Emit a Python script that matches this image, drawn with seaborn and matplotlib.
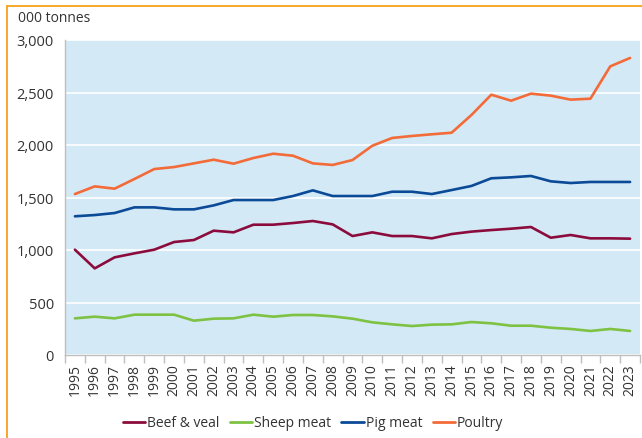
import matplotlib
matplotlib.use("Agg")
import matplotlib.pyplot as plt
from matplotlib.lines import Line2D
from matplotlib.ticker import FuncFormatter
import numpy as np
import pandas as pd
import seaborn as sns

years = list(range(1995, 2024))

beef_veal = [1003, 825, 930, 968, 1003, 1076, 1095, 1184, 1168, 1241,
             1241, 1257, 1276, 1244, 1133, 1168, 1133, 1133, 1111, 1152,
             1175, 1190, 1203, 1219, 1117, 1143, 1111, 1111, 1108]
sheep_meat = [349, 365, 349, 384, 384, 384, 327, 346, 349, 384,
              365, 381, 381, 368, 346, 311, 292, 276, 289, 292,
              314, 302, 279, 279, 260, 248, 229, 248, 229]
pig_meat = [1321, 1333, 1352, 1406, 1406, 1387, 1387, 1425, 1476, 1476,
            1476, 1514, 1568, 1514, 1514, 1514, 1555, 1555, 1533, 1571,
            1610, 1683, 1692, 1705, 1654, 1638, 1648, 1648, 1648]
poultry = [1533, 1606, 1584, 1676, 1771, 1790, 1825, 1860, 1822, 1876,
           1917, 1898, 1825, 1810, 1857, 1993, 2067, 2086, 2102, 2117,
           2286, 2479, 2422, 2489, 2470, 2432, 2441, 2749, 2829]

series_names = ["Beef & veal", "Sheep meat", "Pig meat", "Poultry"]
colours = ["#8B0C3C", "#7DC242", "#0A4A97", "#F26B38"]

df = pd.DataFrame({"Year": years, "Beef & veal": beef_veal, "Sheep meat": sheep_meat,
                   "Pig meat": pig_meat, "Poultry": poultry})
long_df = df.melt(id_vars="Year", var_name="Meat", value_name="Tonnes")

sns.set_theme(style="white")
plt.rcParams["font.family"] = ["Open Sans", "DejaVu Sans"]

fig = plt.figure(figsize=(6.42, 4.39), dpi=100)
ax = fig.add_axes([65 / 642, 1 - 356 / 439, 575 / 642, 315 / 439])
ax.set_facecolor("#D4E9F6")

sns.lineplot(data=long_df, x="Year", y="Tonnes", hue="Meat", hue_order=series_names,
             palette=colours, linewidth=1.9, ax=ax, legend=False)

ax.set_xlim(1994.5, 2023.5)
ax.set_ylim(0, 3000)
ax.set_yticks(np.arange(0, 3001, 500))
ax.yaxis.set_major_formatter(FuncFormatter(lambda v, p: f"{int(v):,}"))
ax.set_xticks(years)
ax.set_xticklabels([str(y) for y in years], rotation=90)
ax.set_xticks(np.arange(1994.5, 2024, 1), minor=True)
ax.tick_params(axis="x", which="major", length=0, pad=6, labelsize=10, colors="#333333")
ax.tick_params(axis="x", which="minor", length=6, width=1, color="#BFBFBF", direction="out")
ax.tick_params(axis="y", which="major", length=5, width=1, labelsize=10.5, pad=3)
ax.tick_params(axis="y", colors="#BFBFBF", labelcolor="#333333")
ax.tick_params(axis="x", which="minor", bottom=True)
ax.grid(axis="y", color="white", linewidth=1.2)
ax.set_axisbelow(True)
ax.set_xlabel("")
ax.set_ylabel("")
for side in ["top", "right"]:
    ax.spines[side].set_visible(False)
for side in ["left", "bottom"]:
    ax.spines[side].set_color("#BFBFBF")
    ax.spines[side].set_linewidth(1)

fig.text(18 / 642, 1 - 18 / 439, "000 tonnes", fontsize=10, color="#333333", va="center", ha="left")

handles = [Line2D([0], [0], color=c, lw=2) for c in colours]
fig.legend(handles, series_names, loc="center", bbox_to_anchor=(313 / 642, 1 - 424 / 439), ncol=4,
           frameon=False, fontsize=10, handlelength=1.6, handletextpad=0.15, columnspacing=0.75,
           labelcolor="#333333")

# orange frame (left and top edges)
fig.add_artist(Line2D([6.5 / 642, 6.5 / 642], [0, 1 - 6.5 / 439], transform=fig.transFigure,
                      color="#F7A11A", lw=1.3))
fig.add_artist(Line2D([6.5 / 642, 1], [1 - 6.5 / 439, 1 - 6.5 / 439], transform=fig.transFigure,
                      color="#F7A11A", lw=1.3))

fig.savefig("out.png", dpi=100)
